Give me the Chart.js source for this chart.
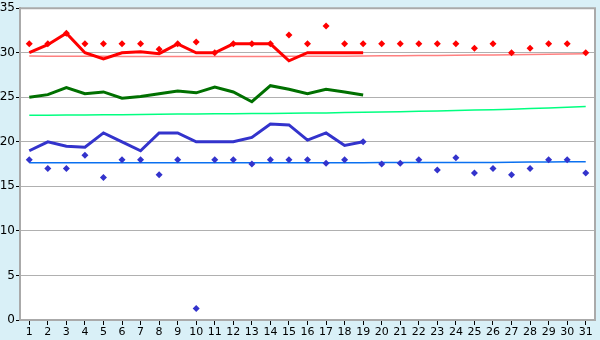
<!DOCTYPE html>
<html><head><meta charset="utf-8">
<script src="https://cdn.jsdelivr.net/npm/chart.js@4"></script>
<style>html,body{margin:0;padding:0;background:#d9f0f7;}#c{display:block;}</style>
</head><body>
<div style="width:600px;height:340px"><canvas id="c" width="600" height="340"></canvas></div>
<script>
const days = [1,2,3,4,5,6,7,8,9,10,11,12,13,14,15,16,17,18,19,20,21,22,23,24,25,26,27,28,29,30,31];
const yTicks = [0,5,10,15,20,25,30,35];

const redLine = [30,30.9,32.2,30,29.3,30,30.1,29.9,31,30,30,31,31,31,29.1,30,30,30,30,null,null,null,null,null,null,null,null,null,null,null,null];
const redPoints = [31,31,32.2,31,31,31,31,30.4,31,31.2,30,31,31,31,32,31,33,31,31,31,31,31,31,31,30.5,31,30,30.5,31,31,30];
const redTrend = [29.64,29.62,29.61,29.6,29.6,29.59,29.58,29.58,29.58,29.58,29.58,29.58,29.58,29.59,29.6,29.6,29.61,29.62,29.63,29.65,29.66,29.68,29.7,29.72,29.74,29.76,29.78,29.81,29.84,29.87,29.89];

const greenLine = [25,25.3,26.1,25.4,25.6,24.9,25.1,25.4,25.7,25.5,26.15,25.6,24.5,26.3,25.9,25.4,25.9,25.6,25.25,null,null,null,null,null,null,null,null,null,null,null,null];
const greenTrend = [22.98,22.99,23,23.01,23.03,23.05,23.07,23.09,23.11,23.12,23.14,23.15,23.17,23.19,23.21,23.23,23.25,23.28,23.31,23.34,23.38,23.42,23.46,23.51,23.56,23.61,23.67,23.73,23.8,23.88,23.96];

const blueLine = [19,20,19.5,19.4,21,20,19,21,21,20,20,20,20.5,22,21.9,20.2,21,19.6,20,null,null,null,null,null,null,null,null,null,null,null,null];
const bluePoints = [18,17,17,18.5,16,18,18,16.3,18,1.3,18,18,17.5,18,18,18,17.6,18,20,17.5,17.6,18,16.85,18.2,16.5,17,16.3,17,18,18,16.5];
const blueTrend = [17.64,17.64,17.64,17.64,17.64,17.64,17.65,17.65,17.65,17.65,17.65,17.65,17.65,17.65,17.66,17.66,17.66,17.66,17.66,17.67,17.67,17.67,17.67,17.68,17.68,17.69,17.7,17.73,17.74,17.75,17.75];

const bgPlugin = {
  id: 'bg',
  beforeDraw(chart) {
    const {ctx, chartArea: a} = chart;
    ctx.save();
    ctx.fillStyle = '#d9f0f7';
    ctx.fillRect(0, 0, chart.width, chart.height);
    ctx.fillStyle = '#ffffff';
    ctx.fillRect(a.left, a.top, a.right - a.left, a.bottom - a.top);
    ctx.restore();
  },
  afterDraw(chart) {
    const {ctx, chartArea: a} = chart;
    ctx.save();
    ctx.strokeStyle = '#aaaaaa';
    ctx.lineWidth = 2;
    ctx.beginPath();
    ctx.moveTo(a.left, a.top); ctx.lineTo(a.right, a.top); ctx.lineTo(a.right, a.bottom);
    ctx.stroke();
    ctx.restore();
  }
};

function lineDs(data, color, width, order) {
  return {data, borderColor: color, backgroundColor: color, borderWidth: width, pointRadius: 0, pointHoverRadius: 0, tension: 0, fill: false, spanGaps: false, order};
}
function ptDs(data, color) {
  return {data, showLine: false, borderColor: color, backgroundColor: color, pointStyle: 'rectRot', pointRadius: 3.5, pointBorderWidth: 0, order: 0};
}

new Chart(document.getElementById('c'), {
  type: 'line',
  data: {
    labels: days,
    datasets: [
      lineDs(redTrend, '#ff8080', 1.5, 5),
      lineDs(greenTrend, '#00ff80', 1.5, 5),
      lineDs(blueTrend, '#0a70f0', 1.5, 5),
      lineDs(redLine, '#ff0000', 3, 2),
      lineDs(greenLine, '#007000', 3, 2),
      lineDs(blueLine, '#3333cc', 3, 2),
      ptDs(redPoints, '#ff0000'),
      ptDs(bluePoints, '#3333cc')
    ]
  },
  options: {
    responsive: false,
    animation: false,
    events: [],
    layout: {padding: {top: 5, right: 5, left: 0, bottom: 0}},
    plugins: {legend: {display: false}, tooltip: {enabled: false}},
    scales: {
      x: {
        type: 'category',
        offset: true,
        grid: {display: true, drawOnChartArea: false, drawTicks: true, tickLength: 5, tickColor: '#000000', offset: false},
        border: {display: true, color: '#aaaaaa', width: 2},
        ticks: {color: '#000000', font: {family: 'DejaVu Sans', size: 11}, padding: 1, maxRotation: 0, autoSkip: false},
        afterFit(s) { s.height = 20; }
      },
      y: {
        min: 0, max: 35,
        afterBuildTicks(s) { s.ticks = yTicks.map(v => ({value: v})); },
        grid: {color: '#b0b0b0', lineWidth: 1, drawTicks: true, tickLength: 4, tickColor: '#000000'},
        border: {display: true, color: '#aaaaaa', width: 2},
        ticks: {color: '#000000', font: {family: 'DejaVu Sans', size: 12}, padding: 1},
        afterFit(s) { s.width = 20; }
      }
    }
  },
  plugins: [bgPlugin]
});
</script>
</body></html>
